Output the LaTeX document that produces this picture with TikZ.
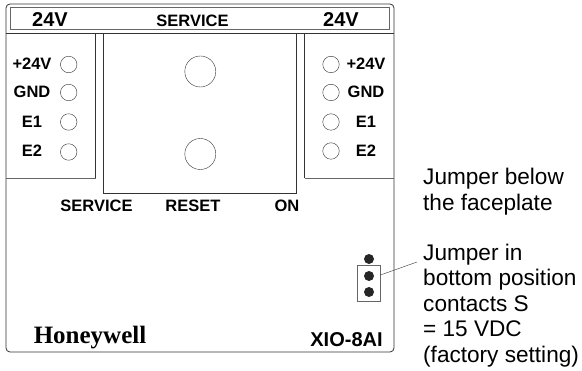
\documentclass[tikz,border=0pt]{standalone}
\usepackage{fontspec}
\setmainfont{Liberation Sans}
\newfontfamily\logofont{Liberation Serif}
\usepackage{xcolor}
\definecolor{myframe}{HTML}{333333}
\definecolor{mygrey}{HTML}{666666}
\tikzset{
	lbl/.style={font=\bfseries\fontsize{16.5}{18}\selectfont, inner sep=0pt},
	biglbl/.style={font=\bfseries\fontsize{20}{22}\selectfont, inner sep=0pt},
	note/.style={font=\fontsize{22.6}{25.5}\selectfont, align=left, anchor=north west, inner sep=0pt},
	led/.style={draw=myframe, circle, inner sep=0pt, minimum size=16.5pt},
	btn/.style={draw=myframe, circle, inner sep=0pt, minimum size=31pt},
	pin/.style={fill=black!85, circle, inner sep=0pt, minimum size=10pt}
}
\begin{document}
\begin{tikzpicture}[x=1pt, y=-1pt]
	\useasboundingbox (0,0) rectangle (582,371);
	% housing and panels
	\draw [myframe, thick, rounded corners=4pt] (6,4) rectangle (394,352);
	\draw [mygrey, thick] (10,7.5) rectangle (389.5,29);
	\draw [myframe, thick] (6,33) -- (394,33);
	\draw [myframe, thick] (95.5,33) -- (95.5,178);
	\draw [mygrey, thick] (6,178) -- (95.5,178);
	\draw [myframe, thick] (103.5,33) -- (103.5,193) -- (296.5,193) -- (296.5,33);
	\draw [myframe, thick] (304.5,33) -- (304.5,178);
	\draw [mygrey, thick] (304.5,178) -- (394,178);
	% top strip
	\node [biglbl] (vleft) at (50,20) {24V};
	\node [lbl] (service) at (192.5,20.5) {SERVICE};
	\node [biglbl] (vright) at (341,20) {24V};
	% left connector
	\node [led] (la) at (68.7,64.5) {};
	\node [led] (lb) at (68.7,92.5) {};
	\node [led] (lc) at (68.7,122) {};
	\node [led] (ld) at (68.7,152) {};
	\node [lbl] (ta) at (32,64) {+24V};
	\node [lbl] (tb) at (32,92) {GND};
	\node [lbl] (tc) at (32,122) {E1};
	\node [lbl] (td) at (32,151) {E2};
	% right connector
	\node [led] (ra) at (331,64.5) {};
	\node [led] (rb) at (331,92.5) {};
	\node [led] (rc) at (331,122) {};
	\node [led] (rd) at (331,151) {};
	\node [lbl] (ua) at (366,64) {+24V};
	\node [lbl] (ub) at (366,92) {GND};
	\node [lbl] (uc) at (366,122) {E1};
	\node [lbl] (ud) at (366,151) {E2};
	% buttons
	\node [btn] (bservice) at (200.3,71.5) {};
	\node [btn] (breset) at (200.3,154) {};
	\node [lbl] (tservice) at (96.5,206) {SERVICE};
	\node [lbl] (treset) at (193,206) {RESET};
	\node [lbl] (ton) at (287,206) {ON};
	% bottom line
	\node [font=\logofont\bfseries\fontsize{25}{26}\selectfont, inner sep=0pt] (logo) at (90,337.5) {Honeywell};
	\node [lbl, font=\bfseries\fontsize{20}{22}\selectfont] (type) at (346.5,340) {XIO-8AI};
	% jumper
	\draw [mygrey] (357,265) rectangle (380,301);
	\node [pin] (pa) at (369,259) {};
	\node [pin] (pb) at (369,276) {};
	\node [pin] (pc) at (369,292) {};
	\coordinate (jump) at (380.5,275);
	\coordinate (lead) at (417,262);
	\draw [myframe] (jump) -- (lead);
	% notes
	\node [note] (nbelow) at (423,168) {Jumper below\\the faceplate};
	\node [note] (njump) at (423,243.5) {Jumper in\\bottom position\\contacts S\\= 15 VDC\\(factory setting)};
\end{tikzpicture}
\end{document}
